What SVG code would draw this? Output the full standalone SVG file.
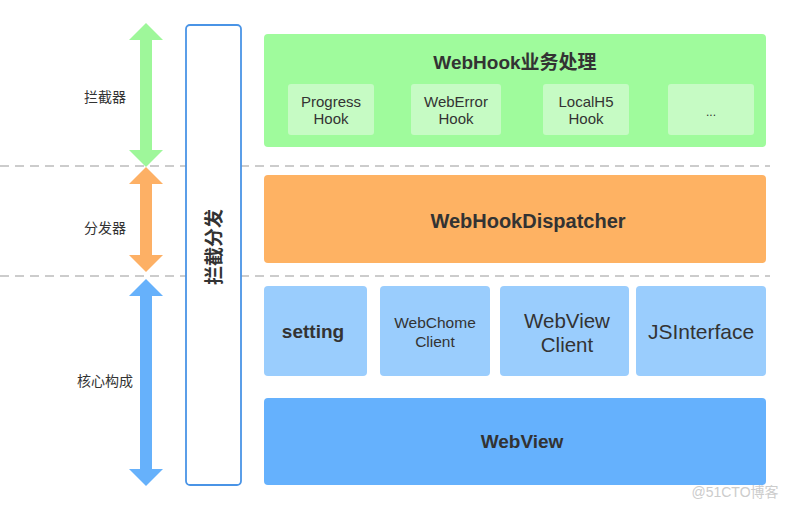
<svg xmlns="http://www.w3.org/2000/svg" width="793" height="510" viewBox="0 0 793 510">
<style>
text{font-family:"Liberation Sans","Noto Sans CJK SC",sans-serif;fill:#333;text-anchor:middle;dominant-baseline:central}
.lbl{font-size:14px}
.b{font-weight:bold}
.dash{stroke:#999;stroke-width:1.2;stroke-dasharray:9 6;fill:none}
</style>
<rect width="793" height="510" fill="#fff"/>
<g id="connectors">
<line class="dash" x1="0" y1="166" x2="770" y2="166"/>
<line class="dash" x1="0" y1="276" x2="770" y2="276"/>
<polygon fill="#9ef79a" points="146,23 163,40 152,40 152,150 163,150 146,167 129,150 140,150 140,40 129,40"/>
<polygon fill="#fdb065" points="146,167 163,184 152,184 152,255 163,255 146,272 129,255 140,255 140,184 129,184"/>
<polygon fill="#66b1fb" points="146,279 163,296 152,296 152,469 163,469 146,486 129,469 140,469 140,296 129,296"/>
</g>
<g id="labels">
<text class="lbl" x="105" y="97">拦截器</text>
<text class="lbl" x="105" y="228">分发器</text>
<text class="lbl" x="105" y="381">核心构成</text>
</g>
<g id="intercept-dispatch">
<rect x="186" y="25" width="55" height="460" rx="4" fill="#fff" stroke="#4a94e6" stroke-width="1.8"/>
<text class="b" font-size="19" transform="translate(214,247) rotate(-90)">拦截分发</text>
</g>
<g id="webhook">
<rect x="264" y="34" width="502" height="113" rx="4" fill="#9ffb9c"/>
<text class="b" font-size="19" x="515" y="62">WebHook业务处理</text>
</g>
<g id="progress-hook">
<rect x="288" y="84" width="86" height="51" rx="3" fill="#c6fbc4"/>
<text font-size="15" x="331" y="101">Progress</text>
<text font-size="15" x="331" y="118">Hook</text>
</g>
<g id="weberror-hook">
<rect x="411" y="84" width="90" height="51" rx="3" fill="#c6fbc4"/>
<text font-size="15" x="456" y="101">WebError</text>
<text font-size="15" x="456" y="118">Hook</text>
</g>
<g id="localh5-hook">
<rect x="543" y="84" width="86" height="51" rx="3" fill="#c6fbc4"/>
<text font-size="15" x="586" y="101">LocalH5</text>
<text font-size="15" x="586" y="118">Hook</text>
</g>
<g id="more-hook">
<rect x="668" y="84" width="86" height="51" rx="3" fill="#c6fbc4"/>
<text font-size="12" x="711" y="112">...</text>
</g>
<g id="dispatcher">
<rect x="264" y="175" width="502" height="88" rx="4" fill="#feb263"/>
<text class="b" font-size="20" x="528" y="221">WebHookDispatcher</text>
</g>
<g id="setting">
<rect x="264" y="286" width="103" height="90" rx="4" fill="#9acdfd"/>
<text class="b" font-size="19" x="313" y="331">setting</text>
</g>
<g id="webchome-client">
<rect x="380" y="286" width="110" height="90" rx="4" fill="#9acdfd"/>
<text font-size="15.5" x="435" y="322">WebChome</text>
<text font-size="15.5" x="435" y="341">Client</text>
</g>
<g id="webview-client">
<rect x="500" y="286" width="129" height="90" rx="4" fill="#9acdfd"/>
<text font-size="20.5" x="567" y="320">WebView</text>
<text font-size="20.5" x="567" y="344">Client</text>
</g>
<g id="jsinterface">
<rect x="636" y="286" width="130" height="90" rx="4" fill="#9acdfd"/>
<text font-size="21" x="701" y="331">JSInterface</text>
</g>
<g id="webview">
<rect x="264" y="398" width="502" height="87" rx="4" fill="#65b1fd"/>
<text class="b" font-size="19" x="522" y="441">WebView</text>
</g>
<text font-size="14" x="735" y="492" style="fill:#ccc">@51CTO博客</text>
</svg>
